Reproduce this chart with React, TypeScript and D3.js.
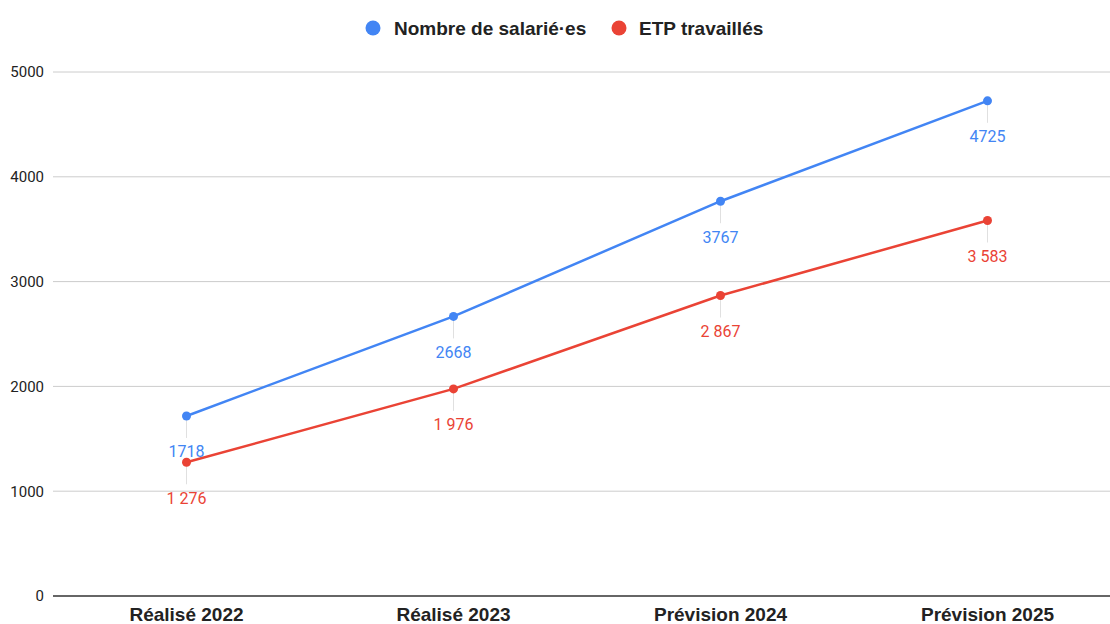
import React from "react";
import * as d3 from "d3";

const categories = ["Réalisé 2022", "Réalisé 2023", "Prévision 2024", "Prévision 2025"];
const salaries = [1718, 2668, 3767, 4725];
const etp = [1276, 1976, 2867, 3583];
const yTicks = [0, 1000, 2000, 3000, 4000, 5000];
const seriesNames = ["Nombre de salarié·es", "ETP travaillés"];

const W = 1110;
const H = 624;
const BLUE = "#4285F4";
const RED = "#EA4335";
const FONT = "Roboto, Arial, sans-serif";
const BOLD_FONT = "'Liberation Sans', Arial, sans-serif";

export default function App() {
  const x = d3.scaleBand<string>().domain(categories).range([53, 1121]);
  const y = d3.scaleLinear().domain([0, 5000]).range([596, 72]);
  const cxOf = (i: number) => (x(categories[i]) as number) + x.bandwidth() / 2;
  const line = d3
    .line<number>()
    .x((_, i) => cxOf(i))
    .y((d) => y(d));

  const fmtSpace = (v: number) => d3.format(",")(v).replace(/,/g, "\u00A0");
  const series = [
    { name: seriesNames[0], data: salaries, color: BLUE, fmt: (v: number) => String(v) },
    { name: seriesNames[1], data: etp, color: RED, fmt: fmtSpace },
  ];

  return (
    <svg width={W} height={H} style={{ position: "absolute", left: 0, top: 0, background: "#fff" }} fontFamily={FONT}>
      <rect width={W} height={H} fill="#fff" />
      {yTicks.map((t) => (
        <g key={t}>
          {t !== 0 && <line x1={53} x2={W} y1={y(t)} y2={y(t)} stroke="#cccccc" strokeWidth={1} />}
          <text x={44} y={y(t)} dy="0.36em" textAnchor="end" fontSize={15} fill="#222">
            {t}
          </text>
        </g>
      ))}
      {series.map((s) =>
        s.data.map((v, i) => (
          <line key={s.name + i} x1={cxOf(i)} x2={cxOf(i)} y1={y(v)} y2={y(v) + 22} stroke="#e0e0e0" strokeWidth={1} />
        ))
      )}
      <line x1={53} x2={W} y1={y(0)} y2={y(0)} stroke="#333" strokeWidth={1.5} />
      {series.map((s) => (
        <g key={s.name}>
          <path d={line(s.data) || ""} fill="none" stroke={s.color} strokeWidth={2.5} />
          {s.data.map((v, i) => (
            <circle key={i} cx={cxOf(i)} cy={y(v)} r={4.5} fill={s.color} />
          ))}
        </g>
      ))}
      {series.map((s) =>
        s.data.map((v, i) => (
          <text key={s.name + "l" + i} x={cxOf(i)} y={y(v) + 41.5} textAnchor="middle" fontSize={16} fill={s.color}>
            {s.fmt(v)}
          </text>
        ))
      )}
      {categories.map((c, i) => (
        <text key={c} x={cxOf(i)} y={621} textAnchor="middle" fontSize={19} fontWeight="bold" fill="#222" fontFamily={BOLD_FONT}>
          {c}
        </text>
      ))}
      <g fontFamily={BOLD_FONT} fontSize={19} fontWeight="bold" fill="#222">
        <circle cx={373} cy={28} r={7.5} fill={BLUE} />
        <text x={394} y={35}>{seriesNames[0]}</text>
        <circle cx={619} cy={28} r={7.5} fill={RED} />
        <text x={639} y={35}>{seriesNames[1]}</text>
      </g>
    </svg>
  );
}
